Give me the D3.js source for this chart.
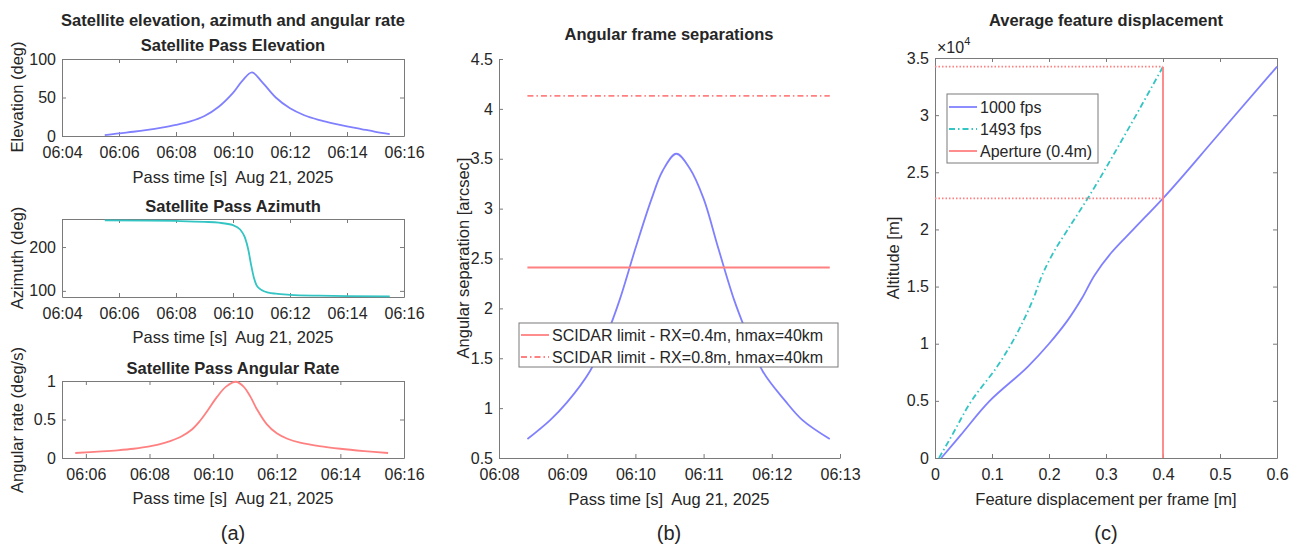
<!DOCTYPE html>
<html>
<meta charset='utf-8'>
<head>
<title>satellite pass figure</title>
<script src='https://cdn.jsdelivr.net/npm/d3@7'></script>
<style>
body { margin: 0; background: #fff; }
text { font-family: 'Liberation Sans', Arial, sans-serif; fill: #262626; white-space: pre; }
.tick text { font-size: 16px; }
.lab { font-size: 16.5px; }
.ttl { font-size: 16.5px; font-weight: bold; }
.leg { font-size: 16px; }
.cap { font-size: 20px; }
</style>
</head>
<body>
<div id='fig'></div>
<script>
// panel (a) elevation
var elevTime = ['06:05:30','06:06:00','06:06:30','06:07:00','06:07:30','06:08:00','06:08:30','06:09:00','06:09:30','06:10:00','06:10:20','06:10:40',
                '06:11:00','06:11:30','06:12:00','06:12:30','06:13:00','06:13:30','06:14:00','06:14:30','06:15:00','06:15:30']
var elevVal  = [1, 3.5, 5.5, 8, 11, 14.5, 19, 26, 38, 56, 72, 82.5,
                71, 50, 36, 27, 21, 16.5, 12.5, 9, 5.5, 2.5]
// panel (a) azimuth
var azTime = ['06:05:30','06:07:00','06:08:00','06:09:00','06:09:30','06:10:00','06:10:15','06:10:25','06:10:32','06:10:38','06:10:44','06:10:50',
              '06:11:00','06:11:15','06:11:30','06:12:00','06:13:00','06:14:00','06:15:30']
var azVal  = [261, 260.5, 259.5, 257.5, 255.5, 250, 240, 222, 195, 160, 130, 112,
              102, 96, 93.5, 91, 89, 88, 87.5]
// panel (a) angular rate
var rateTime = ['06:05:40','06:06:30','06:07:00','06:07:30','06:08:00','06:08:30','06:09:00','06:09:20','06:09:35','06:09:50','06:10:07','06:10:25','06:10:43',
                '06:10:57','06:11:10','06:11:22','06:11:41','06:12:00','06:12:20','06:12:44','06:13:20','06:14:00','06:14:45','06:15:30']
var rateVal  = [0.065, 0.085, 0.1, 0.12, 0.15, 0.2, 0.28, 0.37, 0.48, 0.62, 0.79, 0.93, 0.99,
                0.93, 0.8, 0.64, 0.44, 0.32, 0.25, 0.2, 0.155, 0.12, 0.09, 0.065]
// panel (b) angular separation
var sepTime = ['06:08:25','06:08:45','06:09:00','06:09:20','06:09:35','06:09:46','06:10:00','06:10:14','06:10:24','06:10:36',
               '06:10:48','06:11:00','06:11:13','06:11:27','06:11:38','06:11:52','06:12:12','06:12:27','06:12:51']
var sepVal  = [0.69, 0.88, 1.06, 1.37, 1.74, 2.08, 2.6, 3.09, 3.38, 3.55,
               3.4, 3.1, 2.6, 2.08, 1.75, 1.37, 1.07, 0.88, 0.69]
var limitNames = ['SCIDAR limit - RX=0.4m, hmax=40km', 'SCIDAR limit - RX=0.8m, hmax=40km']
var limitVal = [2.41, 4.13]
// panel (c) displacement vs altitude
var altVal   = [0, 2000, 5000, 8000, 10000, 12000, 14000, 16000, 18000, 20000, 22720, 28000, 34240]
var disp1000 = [0.011, 0.045, 0.096, 0.163, 0.2, 0.232, 0.258, 0.28, 0.31, 0.348, 0.4, 0.492, 0.6]
var disp1493 = [0.007, 0.03, 0.064, 0.109, 0.134, 0.155, 0.173, 0.188, 0.208, 0.233, 0.268, 0.33, 0.4]
var seriesNames = ['1000 fps', '1493 fps', 'Aperture (0.4m)']
var apertureX = 0.4
var apertureAlt = [22720, 34240]

var parseT = d3.timeParse('%H:%M:%S')
var fmtT = d3.timeFormat('%H:%M')
var AX = '#7a7a7a', BLUE = '#8080ff', CYAN = '#33c4c4', RED = '#ff8080'
var passLabel = 'Pass time [s]  Aug 21, 2025'

var svg = d3.select('#fig').append('svg').attr('width', 1302).attr('height', 548)
svg.append('rect').attr('width', 1302).attr('height', 548).attr('fill', '#fff')

function drawAxes(x, y, xTicks, yTicks, xFmt, yFmt, box) {
  var x0 = x.range()[0], x1 = x.range()[1], y0 = y.range()[0], y1 = y.range()[1]
  var g = svg.append('g')
  g.append('g').attr('transform', 'translate(0,' + y0 + ')')
    .call(d3.axisBottom(x).tickValues(xTicks).tickFormat(xFmt).tickSizeInner(-4).tickSizeOuter(0).tickPadding(11))
  g.append('g').attr('transform', 'translate(' + x0 + ',0)')
    .call(d3.axisLeft(y).tickValues(yTicks).tickFormat(yFmt).tickSizeInner(-4).tickSizeOuter(0).tickPadding(6))
  if (box) {
    g.append('g').attr('transform', 'translate(0,' + y1 + ')')
      .call(d3.axisTop(x).tickValues(xTicks).tickFormat('').tickSizeInner(-4).tickSizeOuter(0))
    g.append('g').attr('transform', 'translate(' + x1 + ',0)')
      .call(d3.axisRight(y).tickValues(yTicks).tickFormat('').tickSizeInner(-4).tickSizeOuter(0))
  }
  g.selectAll('.domain, .tick line').attr('stroke', AX)
  g.selectAll('.tick text').attr('fill', '#262626')
  return g
}

function label(txt, x, y, cls, rot) {
  var t = svg.append('text').attr('class', cls).attr('text-anchor', 'middle').text(txt)
  if (rot) t.attr('transform', 'translate(' + x + ',' + y + ') rotate(-90)').attr('dy', '0.35em')
  else t.attr('x', x).attr('y', y)
  return t
}

function plotLine(xs, ys, x, y, color, dash, curve) {
  var pts = xs.map(function(d, i) { return [d, ys[i]] })
  svg.append('path').datum(pts)
    .attr('d', d3.line().x(function(d) { return x(d[0]) }).y(function(d) { return y(d[1]) }).curve(curve || d3.curveLinear))
    .attr('fill', 'none').attr('stroke', color).attr('stroke-width', 1.8)
    .attr('stroke-dasharray', dash || null)
}

// ---------- panel (a) ----------
var xa = d3.scaleTime().domain([parseT('06:04:00'), parseT('06:16:00')]).range([62, 404])
var xa3 = d3.scaleTime().domain([parseT('06:05:15'), parseT('06:16:00')]).range([62, 404])
var ticksA = d3.timeMinute.every(2).range(parseT('06:04:00'), parseT('06:16:30'))
var ticksA3 = d3.timeMinute.every(2).range(parseT('06:06:00'), parseT('06:16:30'))
var fmtN = d3.format('~g')
var smooth = d3.curveCatmullRom.alpha(0.5)

var yEl = d3.scaleLinear().domain([0, 100]).range([136, 59])
drawAxes(xa, yEl, ticksA, [0, 50, 100], fmtT, fmtN, true)
plotLine(elevTime.map(parseT), elevVal, xa, yEl, BLUE, null, smooth)

var yAz = d3.scaleLinear().domain([86, 264]).range([297, 219])
drawAxes(xa, yAz, ticksA, [100, 200], fmtT, fmtN, true)
plotLine(azTime.map(parseT), azVal, xa, yAz, CYAN, null, d3.curveMonotoneX)

var yRt = d3.scaleLinear().domain([0, 1]).range([458, 381])
drawAxes(xa3, yRt, ticksA3, [0, 0.5, 1], fmtT, fmtN, true)
plotLine(rateTime.map(parseT), rateVal, xa3, yRt, RED, null, smooth)

label('Satellite elevation, azimuth and angular rate', 233, 26, 'ttl')
label('Satellite Pass Elevation', 233, 51, 'ttl')
label('Satellite Pass Azimuth', 233, 212, 'ttl')
label('Satellite Pass Angular Rate', 233, 374, 'ttl')
label(passLabel, 233, 183, 'lab')
label(passLabel, 233, 343, 'lab')
label(passLabel, 233, 504, 'lab')
label('Elevation (deg)', 17, 97, 'lab', true)
label('Azimuth (deg)', 17, 258, 'lab', true)
label('Angular rate (deg/s)', 17, 420, 'lab', true)
label('(a)', 233, 540, 'cap')

// ---------- panel (b) ----------
var xb = d3.scaleTime().domain([parseT('06:08:00'), parseT('06:13:00')]).range([499, 840])
var yb = d3.scaleLinear().domain([0.5, 4.5]).range([458, 59])
var ticksB = d3.timeMinute.every(1).range(parseT('06:08:00'), parseT('06:13:30'))
drawAxes(xb, yb, ticksB, d3.range(0.5, 4.51, 0.5), fmtT, fmtN, false)
var sepT = sepTime.map(parseT)
plotLine(sepT, sepVal, xb, yb, BLUE, null, smooth)
var tEnds = [sepT[0], sepT[sepT.length - 1]]
plotLine(tEnds, [limitVal[0], limitVal[0]], xb, yb, RED)
plotLine(tEnds, [limitVal[1], limitVal[1]], xb, yb, RED, '6,3,1.5,3')

label('Angular frame separations', 669, 40, 'ttl')
label(passLabel, 669, 505, 'lab')
label('Angular separation [arcsec]', 463, 258, 'lab', true)
label('(b)', 669, 540, 'cap')

var legB = svg.append('g')
legB.append('rect').attr('x', 519).attr('y', 323).attr('width', 319).attr('height', 44)
  .attr('fill', '#fff').attr('stroke', AX)
limitNames.forEach(function(nm, i) {
  var yy = 335 + i * 22
  legB.append('line').attr('x1', 521).attr('x2', 549).attr('y1', yy).attr('y2', yy)
    .attr('stroke', RED).attr('stroke-width', 1.8).attr('stroke-dasharray', i ? '6,3,1.5,3' : null)
  legB.append('text').attr('class', 'leg').attr('x', 552).attr('y', yy).attr('dy', '0.35em').text(nm)
})

// ---------- panel (c) ----------
var xc = d3.scaleLinear().domain([0, 0.6]).range([935, 1277])
var yc = d3.scaleLinear().domain([0, 35000]).range([458, 58])
drawAxes(xc, yc, d3.range(0, 0.61, 0.1), d3.range(0, 35001, 5000),
  function(d) { return fmtN(+d.toFixed(1)) }, function(d) { return fmtN(d / 1e4) }, true)
plotLine(disp1000, altVal, xc, yc, BLUE, null, d3.curveMonotoneY)
plotLine(disp1493, altVal, xc, yc, CYAN, '6,3,1.5,3', d3.curveMonotoneY)
apertureAlt.forEach(function(a) {
  plotLine([0, apertureX], [a, a], xc, yc, RED, '1.5,2')
})
plotLine([apertureX, apertureX], [0, apertureAlt[1]], xc, yc, RED)

var exp = svg.append('text').attr('x', 937).attr('y', 53).style('font-size', '16px')
exp.append('tspan').text('\u00d710')
exp.append('tspan').attr('dy', -8).style('font-size', '11px').text('4')

label('Average feature displacement', 1106, 26, 'ttl')
label('Feature displacement per frame [m]', 1106, 505, 'lab')
label('Altitude [m]', 893, 258, 'lab', true)
label('(c)', 1106, 540, 'cap')

var legC = svg.append('g')
legC.append('rect').attr('x', 947).attr('y', 94).attr('width', 151).attr('height', 69)
  .attr('fill', '#fff').attr('stroke', AX)
var legCols = [BLUE, CYAN, RED], legDash = [null, '6,3,1.5,3', null]
seriesNames.forEach(function(nm, i) {
  var yy = 107 + i * 22
  legC.append('line').attr('x1', 949).attr('x2', 977).attr('y1', yy).attr('y2', yy)
    .attr('stroke', legCols[i]).attr('stroke-width', 1.8).attr('stroke-dasharray', legDash[i])
  legC.append('text').attr('class', 'leg').attr('x', 980).attr('y', yy).attr('dy', '0.35em').text(nm)
})
</script>
</body>
</html>
